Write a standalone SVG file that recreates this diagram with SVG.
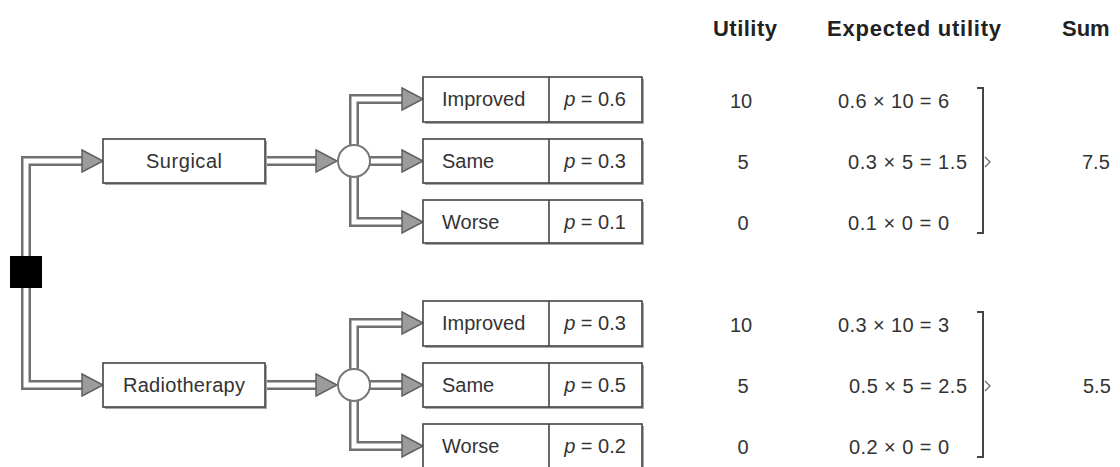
<svg xmlns="http://www.w3.org/2000/svg" xmlns:xlink="http://www.w3.org/1999/xlink" width="1120" height="467" viewBox="0 0 1120 467">
  <style>
    text { font-family: "Liberation Sans", Arial, sans-serif; fill: #333; }
    .lbl { font-size: 20px; }
    .hdr { font-size: 22px; font-weight: bold; fill: #222; }
    .num { font-size: 20px; }
    .shaft-out { fill: none; stroke: #707070; stroke-width: 10; stroke-linejoin: miter; }
    .shaft-in { fill: none; stroke: #fff; stroke-width: 5; stroke-linejoin: miter; }
    .head { fill: #9c9c9c; stroke: #606060; stroke-width: 1.5; stroke-linejoin: miter; }
    .box { fill: #fff; stroke: #444; stroke-width: 1.6; }
    .shadow { fill: #a8a8a8; }
    .chance { fill: #fff; stroke: #777; stroke-width: 2; }
    .brace { fill: none; stroke: #444; stroke-width: 2; }
    .brace-tip { fill: none; stroke: #666; stroke-width: 1.2; }
  </style>
  <defs>
    <!-- arrowhead with its tip at the origin, pointing right -->
    <polygon id="head" class="head" points="-21,-11 0,0 -21,11"/>
    <!-- branch shafts fanning out of a chance node, relative to its centre -->
    <path id="fan-up" d="M0,-16 V-62 H49"/>
    <path id="fan-mid" d="M16,0 H49"/>
    <path id="fan-down" d="M0,16 V61 H49"/>
  </defs>

  <!-- connectors -->
  <g id="connectors">
    <!-- decision node to the two options -->
    <path class="shaft-out" d="M26,262 V161 H83"/>
    <path class="shaft-in" d="M26,262 V161 H83"/>
    <path class="shaft-out" d="M26,282 V385 H83"/>
    <path class="shaft-in" d="M26,282 V385 H83"/>
    <use xlink:href="#head" x="103" y="161"/>
    <use xlink:href="#head" x="103" y="385"/>

    <!-- options to chance nodes -->
    <path class="shaft-out" d="M265,161 H317"/>
    <path class="shaft-in" d="M265,161 H317"/>
    <path class="shaft-out" d="M265,385 H317"/>
    <path class="shaft-in" d="M265,385 H317"/>
    <use xlink:href="#head" x="337" y="161"/>
    <use xlink:href="#head" x="337" y="385"/>

    <!-- chance node (surgical) to outcomes -->
    <g transform="translate(354,161)">
      <use xlink:href="#fan-up" class="shaft-out"/>
      <use xlink:href="#fan-up" class="shaft-in"/>
      <use xlink:href="#fan-mid" class="shaft-out"/>
      <use xlink:href="#fan-mid" class="shaft-in"/>
      <use xlink:href="#fan-down" class="shaft-out"/>
      <use xlink:href="#fan-down" class="shaft-in"/>
      <use xlink:href="#head" x="69" y="-62"/>
      <use xlink:href="#head" x="69" y="0"/>
      <use xlink:href="#head" x="69" y="61"/>
    </g>
    <!-- chance node (radiotherapy) to outcomes -->
    <g transform="translate(354,385)">
      <use xlink:href="#fan-up" class="shaft-out"/>
      <use xlink:href="#fan-up" class="shaft-in"/>
      <use xlink:href="#fan-mid" class="shaft-out"/>
      <use xlink:href="#fan-mid" class="shaft-in"/>
      <use xlink:href="#fan-down" class="shaft-out"/>
      <use xlink:href="#fan-down" class="shaft-in"/>
      <use xlink:href="#head" x="69" y="-62"/>
      <use xlink:href="#head" x="69" y="0"/>
      <use xlink:href="#head" x="69" y="61"/>
    </g>
  </g>

  <!-- decision node -->
  <g id="decision">
    <rect x="10" y="256" width="32" height="32" fill="#000"/>
  </g>

  <!-- options -->
  <g id="surgical">
    <rect class="shadow" x="105" y="141" width="162" height="44"/>
    <rect class="box" x="103" y="139" width="162" height="44"/>
    <text class="lbl" x="184" y="168" text-anchor="middle" textLength="76">Surgical</text>
  </g>
  <g id="radiotherapy">
    <rect class="shadow" x="105" y="365" width="162" height="44"/>
    <rect class="box" x="103" y="363" width="162" height="44"/>
    <text class="lbl" x="184" y="392" text-anchor="middle" textLength="122">Radiotherapy</text>
  </g>

  <!-- chance nodes -->
  <g id="chance-surgical"><circle class="chance" cx="354" cy="161" r="16"/></g>
  <g id="chance-radiotherapy"><circle class="chance" cx="354" cy="385" r="16"/></g>

  <!-- outcomes after surgery -->
  <g id="surg-improved">
    <rect class="shadow" x="425" y="79" width="219" height="45"/>
    <rect class="box" x="423" y="77" width="219" height="45"/>
    <line x1="549" y1="77" x2="549" y2="122" stroke="#444" stroke-width="1.6"/>
    <text class="lbl" x="442" y="106">Improved</text>
    <text class="lbl" x="595" y="106" text-anchor="middle"><tspan font-style="italic">p</tspan> = 0.6</text>
  </g>
  <g id="surg-same">
    <rect class="shadow" x="425" y="141" width="219" height="44"/>
    <rect class="box" x="423" y="139" width="219" height="44"/>
    <line x1="549" y1="139" x2="549" y2="183" stroke="#444" stroke-width="1.6"/>
    <text class="lbl" x="442" y="168">Same</text>
    <text class="lbl" x="595" y="168" text-anchor="middle"><tspan font-style="italic">p</tspan> = 0.3</text>
  </g>
  <g id="surg-worse">
    <rect class="shadow" x="425" y="202" width="219" height="43"/>
    <rect class="box" x="423" y="200" width="219" height="43"/>
    <line x1="549" y1="200" x2="549" y2="243" stroke="#444" stroke-width="1.6"/>
    <text class="lbl" x="442" y="229">Worse</text>
    <text class="lbl" x="595" y="229" text-anchor="middle"><tspan font-style="italic">p</tspan> = 0.1</text>
  </g>

  <!-- outcomes after radiotherapy -->
  <g id="radio-improved">
    <rect class="shadow" x="425" y="303" width="219" height="45"/>
    <rect class="box" x="423" y="301" width="219" height="45"/>
    <line x1="549" y1="301" x2="549" y2="346" stroke="#444" stroke-width="1.6"/>
    <text class="lbl" x="442" y="330">Improved</text>
    <text class="lbl" x="595" y="330" text-anchor="middle"><tspan font-style="italic">p</tspan> = 0.3</text>
  </g>
  <g id="radio-same">
    <rect class="shadow" x="425" y="365" width="219" height="44"/>
    <rect class="box" x="423" y="363" width="219" height="44"/>
    <line x1="549" y1="363" x2="549" y2="407" stroke="#444" stroke-width="1.6"/>
    <text class="lbl" x="442" y="392">Same</text>
    <text class="lbl" x="595" y="392" text-anchor="middle"><tspan font-style="italic">p</tspan> = 0.5</text>
  </g>
  <g id="radio-worse">
    <rect class="shadow" x="425" y="426" width="219" height="45"/>
    <rect class="box" x="423" y="424" width="219" height="45"/>
    <line x1="549" y1="424" x2="549" y2="469" stroke="#444" stroke-width="1.6"/>
    <text class="lbl" x="442" y="453">Worse</text>
    <text class="lbl" x="595" y="453" text-anchor="middle"><tspan font-style="italic">p</tspan> = 0.2</text>
  </g>

  <!-- table headings -->
  <g id="headings">
    <text class="hdr" x="745" y="36" text-anchor="middle" textLength="64">Utility</text>
    <text class="hdr" x="827" y="36" textLength="174">Expected utility</text>
    <text class="hdr" x="1062" y="36">Sum</text>
  </g>

  <!-- utilities -->
  <g id="utilities">
    <text class="num" x="741" y="108" text-anchor="middle">10</text>
    <text class="num" x="743" y="169" text-anchor="middle">5</text>
    <text class="num" x="743" y="230" text-anchor="middle">0</text>
    <text class="num" x="741" y="332" text-anchor="middle">10</text>
    <text class="num" x="743" y="393" text-anchor="middle">5</text>
    <text class="num" x="743" y="454" text-anchor="middle">0</text>
  </g>

  <!-- expected utilities -->
  <g id="expected">
    <text class="num" x="838" y="108" textLength="111">0.6 × 10 = 6</text>
    <text class="num" x="848" y="169" textLength="119">0.3 × 5 = 1.5</text>
    <text class="num" x="848" y="230" textLength="101">0.1 × 0 = 0</text>
    <text class="num" x="838" y="332" textLength="111">0.3 × 10 = 3</text>
    <text class="num" x="849" y="393" textLength="118">0.5 × 5 = 2.5</text>
    <text class="num" x="849" y="454" textLength="100">0.2 × 0 = 0</text>
  </g>

  <!-- brackets grouping each option's outcomes -->
  <g id="brackets">
    <path class="brace" d="M977,88 H983 V233 H977"/>
    <path class="brace-tip" d="M985,157 L990,162 L985,167"/>
    <path class="brace" d="M977,312 H983 V457 H977"/>
    <path class="brace-tip" d="M985,381 L990,386 L985,391"/>
  </g>

  <!-- sums -->
  <g id="sums">
    <text class="num" x="1082" y="169">7.5</text>
    <text class="num" x="1083" y="393">5.5</text>
  </g>
</svg>
